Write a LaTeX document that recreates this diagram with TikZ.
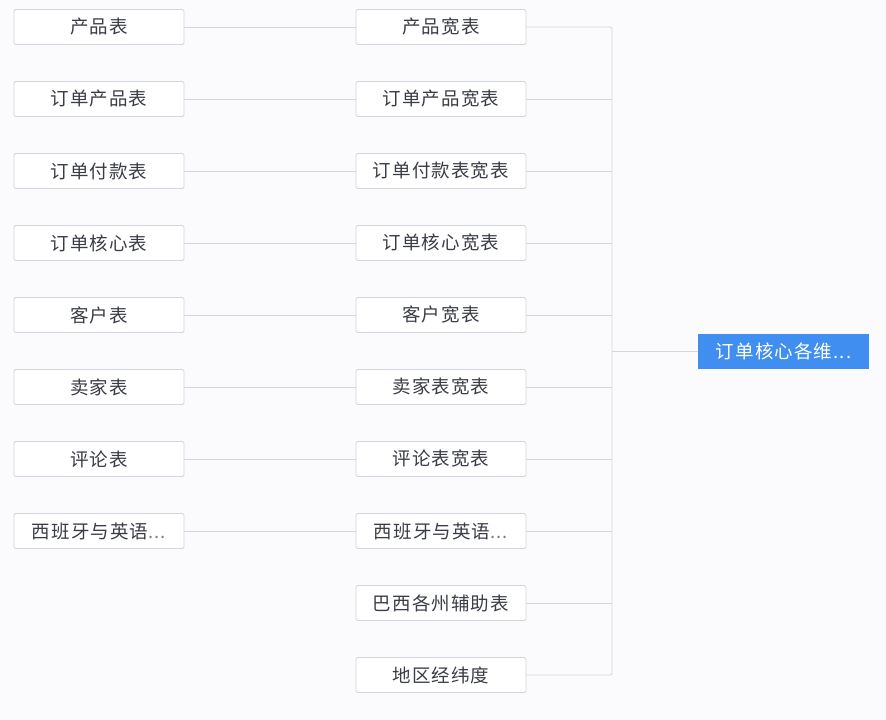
\documentclass[tikz,border=0pt]{standalone}
\usepackage{fontspec}
\newfontfamily\cjk[LetterSpace=6]{Noto Sans CJK SC}
\definecolor{bg}{HTML}{FBFBFD}
\definecolor{boxline}{HTML}{D3D6DC}
\definecolor{conn}{HTML}{D3D7DD}
\definecolor{txt}{HTML}{3A3D45}
\definecolor{rootblue}{HTML}{3F8EF0}
\begin{document}
\begin{tikzpicture}[x=1pt,y=-1pt,
  tbl/.style={draw=boxline, fill=white, line width=0.9pt, rounded corners=2pt,
    minimum width=170pt, minimum height=35pt, inner sep=0pt,
    font=\cjk\fontsize{18.5}{20}\selectfont, text=txt},
  rootbox/.style={fill=rootblue, minimum width=171pt, minimum height=35pt, inner sep=0pt,
    font=\cjk\fontsize{18.5}{20}\selectfont, text=white},
  link/.style={draw=conn, line width=0.9pt}]
\fill[bg] (0,0) rectangle (886,720);
\useasboundingbox (0,0) rectangle (886,720);
% left column
\node[tbl] (l1) at (99,27) {产品表};
\node[tbl] (l2) at (99,99) {订单产品表};
\node[tbl] (l3) at (99,171) {订单付款表};
\node[tbl] (l4) at (99,243) {订单核心表};
\node[tbl] (l5) at (99,315) {客户表};
\node[tbl] (l6) at (99,387) {卖家表};
\node[tbl] (l7) at (99,459) {评论表};
\node[tbl] (l8) at (99,531) {西班牙与英语\textcolor{gray}{...}};
% middle column
\node[tbl] (m1) at (441,27) {产品宽表};
\node[tbl] (m2) at (441,99) {订单产品宽表};
\node[tbl] (m3) at (441,171) {订单付款表宽表};
\node[tbl] (m4) at (441,243) {订单核心宽表};
\node[tbl] (m5) at (441,315) {客户宽表};
\node[tbl] (m6) at (441,387) {卖家表宽表};
\node[tbl] (m7) at (441,459) {评论表宽表};
\node[tbl] (m8) at (441,531) {西班牙与英语\textcolor{gray}{...}};
\node[tbl] (m9) at (441,603) {巴西各州辅助表};
\node[tbl] (m10) at (441,675) {地区经纬度};
% root
\node[rootbox] (root) at (783.5,351) {订单核心各维...};
% left-to-middle links
\foreach \i in {1,...,8} { \draw[link] (l\i.east) -- (m\i.west); }
% bus
\coordinate (bt) at (612,27);
\coordinate (bb) at (612,675);
\coordinate (bj) at (612,351);
\draw[link, rounded corners=2pt] (m1.east) -- (bt) -- (bb) -- (m10.east);
\foreach \i in {2,...,9} { \draw[link] (m\i.east) -- (m\i.east -| bt); }
\draw[link] (bj) -- (root.west);
\end{tikzpicture}
\end{document}
